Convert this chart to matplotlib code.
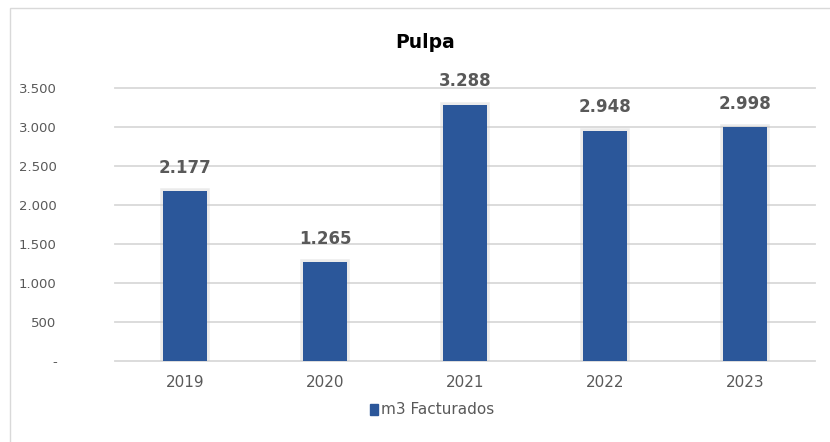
"""
Pulpa - m3 facturados por año
"""
import matplotlib.pyplot as plt
import matplotlib.patheffects as pe
from matplotlib.patches import Rectangle, Patch
from matplotlib.ticker import FuncFormatter

years = ['2019', '2020', '2021', '2022', '2023']
m3_facturados = [2177, 1265, 3288, 2948, 2998]
y_ticks = [0, 500, 1000, 1500, 2000, 2500, 3000, 3500]

BAR_COLOR = '#2B579A'
TEXT_GRAY = '#595959'
GRID_GRAY = '#D9D9D9'


def miles(v, pos=None):
    """Formato con punto de miles, '-' para cero"""
    if v == 0:
        return '-'
    return f'{v:,.0f}'.replace(',', '.')


plt.rcParams['font.family'] = ['DejaVu Sans']

fig = plt.figure(figsize=(8.3, 4.42), dpi=100)
fig.patches.append(Rectangle((10 / 830, -0.1), 1.2, 1 - 8 / 442 + 0.1,
                             transform=fig.transFigure, fill=False,
                             edgecolor='#D9D9D9', linewidth=1))

ax = fig.add_axes([115 / 830, 1 - 361 / 442, 700 / 830, 273 / 442])

x = range(len(years))
bars = ax.bar(x, m3_facturados, width=0.31, color=BAR_COLOR, zorder=3)
for b in bars:
    b.set_path_effects([
        pe.SimplePatchShadow(offset=(0, 0), shadow_rgbFace='#000000', alpha=0.12),
        pe.Stroke(linewidth=4, foreground='#C8C8C8', alpha=0.35),
        pe.Normal()])

for xi, v in zip(x, m3_facturados):
    ax.annotate(miles(v), (xi, v), xytext=(0, 17), textcoords='offset points',
                ha='center', va='center', fontsize=12, fontweight='bold', color=TEXT_GRAY)

ax.set_xlim(-0.5, len(years) - 0.5)
ax.set_ylim(0, 3500)
ax.set_yticks(y_ticks)
ax.yaxis.set_major_formatter(FuncFormatter(miles))
ax.set_xticks(list(x))
ax.set_xticklabels(years)
ax.tick_params(axis='y', length=0, pad=42, labelsize=9.5, labelcolor=TEXT_GRAY)
ax.tick_params(axis='x', length=0, pad=10, labelsize=11, labelcolor=TEXT_GRAY)
for lbl in ax.get_yticklabels():
    lbl.set_horizontalalignment('right')
ax.grid(axis='y', color=GRID_GRAY, linewidth=1.3, zorder=0)
for gl in ax.get_ygridlines():
    gl.set_clip_on(False)
ax.set_axisbelow(True)
for s in ax.spines.values():
    s.set_visible(False)

fig.text(425 / 830, 1 - 42 / 442, 'Pulpa', ha='center', va='center',
         fontsize=13.5, fontweight='bold', color='black')

fig.legend(handles=[Patch(color=BAR_COLOR, label='m3 Facturados')],
           loc='center', bbox_to_anchor=(432 / 830, 1 - 410 / 442), frameon=False,
           fontsize=11, labelcolor=TEXT_GRAY, handlelength=0.55, handleheight=0.7,
           handletextpad=0.2)

fig.savefig('out.png', dpi=100)
